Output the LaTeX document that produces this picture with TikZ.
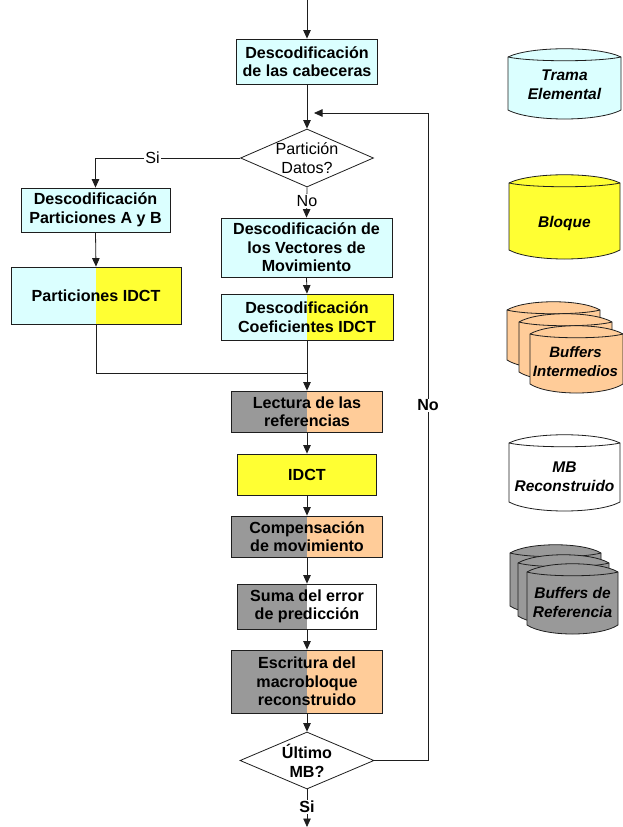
\documentclass[tikz,border=0pt]{standalone}
\usepackage{fontspec}
\setmainfont{Liberation Sans}
\usetikzlibrary{shapes.geometric,arrows.meta}

\definecolor{cyanfill}{HTML}{DBFFFF}
\definecolor{yellowfill}{HTML}{FFFF33}
\definecolor{peachfill}{HTML}{FFCC99}
\definecolor{grayfill}{HTML}{999999}
\definecolor{edge}{HTML}{1E1E1E}

% storage drum: left, top (corner), width, body height, fill colour
\newcommand\drum[5]{%
  \pgfmathsetmacro\cylL{#1}\pgfmathsetmacro\cylT{#2}%
  \pgfmathsetmacro\cylR{#1+#3}\pgfmathsetmacro\cylB{#2+#4}%
  \pgfmathsetmacro\cylA{#1+0.2*#3}\pgfmathsetmacro\cylC{#1+0.8*#3}%
  \filldraw[fill=#5, draw=edge, line width=0.8pt]
    (\cylL,\cylT) .. controls (\cylA,\cylT-11) and (\cylC,\cylT-11) .. (\cylR,\cylT)
    -- (\cylR,\cylB) .. controls (\cylC,\cylB+12) and (\cylA,\cylB+12) .. (\cylL,\cylB) -- cycle;
  \draw[edge, line width=0.8pt]
    (\cylL,\cylT) .. controls (\cylA,\cylT+5) and (\cylC,\cylT+5) .. (\cylR,\cylT);
}

\tikzset{
  base/.style={font=\fontsize{16.1}{18.5}\selectfont},
  stepbox/.style={font=\fontsize{16.1}{18.5}\selectfont\bfseries, draw=edge,
    line width=0.8pt, align=center, inner sep=0pt},
  twotone/.style n args={2}{fill=#2, path picture={
    \fill[#1] (path picture bounding box.south west) rectangle (path picture bounding box.north);}},
  decision/.style={diamond, draw=edge, fill=white, line width=0.8pt, inner sep=0pt},
  arr/.style={draw=edge, line width=0.8pt, -{Triangle[length=8.5pt,width=7.5pt]}},
  link/.style={draw=edge, line width=0.8pt},
  lbl/.style={fill=white, inner sep=1pt, font=\fontsize{16.1}{18.5}\selectfont},
  blbl/.style={lbl, font=\fontsize{16.1}{18.5}\selectfont\bfseries},
  legendtxt/.style={align=center, font=\fontsize{15.5}{19}\selectfont\bfseries\itshape},
}

\begin{document}
\begin{tikzpicture}[x=1pt, y=-1pt]
\useasboundingbox (0,0) rectangle (622,827);

% ---- main flow ----
\node[stepbox, fill=cyanfill, minimum width=141pt, minimum height=45pt] (cab) at (307,61.5)
  {Descodificación\\de las cabeceras};
\node[decision, minimum width=133pt, minimum height=58pt] (d1) at (307,158) {};
\node[base, align=center] (d1txt) at (307,158) {Partición\\Datos?};

\node[stepbox, fill=cyanfill, minimum width=149pt, minimum height=44pt] (decAB) at (95.5,210)
  {Descodificación\\Particiones A y B};
\node[stepbox, twotone={cyanfill}{yellowfill}, minimum width=170pt, minimum height=57pt] (partIDCT) at (96,295.5)
  {Particiones IDCT};

\node[stepbox, fill=cyanfill, minimum width=171pt, minimum height=59pt] (vect) at (306.5,247.5)
  {Descodificación de\\los Vectores de\\Movimiento};
\node[stepbox, twotone={cyanfill}{yellowfill}, minimum width=172pt, minimum height=46pt] (coef) at (307,317)
  {Descodificación\\Coeficientes IDCT};

\node[stepbox, twotone={grayfill}{peachfill}, minimum width=151pt, minimum height=41pt] (lect) at (307,411.5)
  {Lectura de las\\referencias};
\node[stepbox, fill=yellowfill, minimum width=139pt, minimum height=41pt] (idct) at (307,474.5)
  {IDCT};
\node[stepbox, twotone={grayfill}{peachfill}, minimum width=151pt, minimum height=41pt] (comp) at (307,536.5)
  {Compensación\\de movimiento};
\node[stepbox, twotone={grayfill}{white}, minimum width=139pt, minimum height=45pt] (suma) at (307,606.5)
  {Suma del error\\de predicción};
\node[stepbox, twotone={grayfill}{peachfill}, minimum width=151pt, minimum height=63pt] (escr) at (307,681.5)
  {Escritura del\\macrobloque\\reconstruido};

\node[decision, minimum width=134pt, minimum height=57pt] (d2) at (307,760.5) {};
\node[stepbox, draw=none, align=center] (d2txt) at (307,761) {Último\\MB?};

% ---- connectors ----
\coordinate (start) at (307,0);
\coordinate (finish) at (307,827);
\coordinate (join) at (307,373);
\coordinate (loopTop) at (428,113);
\coordinate (loopEnd) at (314,113);

\draw[arr] (start) -- (cab.north);
\draw[arr] (cab.south) -- (d1.north);
\draw[arr] (d1.west) -| (decAB.north);
\draw[arr] (d1.south) -- (vect.north);
\draw[arr] (decAB.south) -- (partIDCT.north);
\draw[arr] (vect.south) -- (coef.north);
\draw[link] (partIDCT.south) |- (join);
\draw[arr] (coef.south) -- (lect.north);
\draw[arr] (lect.south) -- (idct.north);
\draw[arr] (idct.south) -- (comp.north);
\draw[arr] (comp.south) -- (suma.north);
\draw[arr] (suma.south) -- (escr.north);
\draw[arr] (escr.south) -- (d2.north);
\draw[arr] (d2.east) -| (loopTop) -- (loopEnd);
\draw[arr] (d2.south) -- (finish);

\node[lbl] (siTop) at (152.5,158) {Si};
\node[lbl] (noTop) at (307,201) {No};
\node[blbl] (noLoop) at (428,405.5) {No};
\node[blbl] (siEnd) at (307,807) {Si};

% ---- legend of storage types ----
\drum{508}{57}{113}{53}{cyanfill}
\node[legendtxt] (lgTrama) at (564.5,85) {Trama\\Elemental};

\drum{509}{183}{111}{67}{yellowfill}
\node[legendtxt] (lgBloque) at (564.5,223) {Bloque};

\drum{507}{310}{93}{50}{peachfill}
\drum{519}{322}{93}{50}{peachfill}
\drum{530}{334}{93}{50}{peachfill}
\node[legendtxt, font=\fontsize{15}{19}\selectfont\bfseries\itshape] (lgInter) at (575.5,362) {Buffers\\Intermedios};

\drum{509}{443}{111}{59}{white}
\node[legendtxt] (lgMB) at (564.5,477) {MB\\Reconstruido};

\drum{510}{553}{91}{53}{grayfill}
\drum{518}{563}{91}{53}{grayfill}
\drum{527}{572}{91}{53}{grayfill}
\node[legendtxt] (lgRef) at (572.5,602) {Buffers de\\Referencia};

\end{tikzpicture}
\end{document}
